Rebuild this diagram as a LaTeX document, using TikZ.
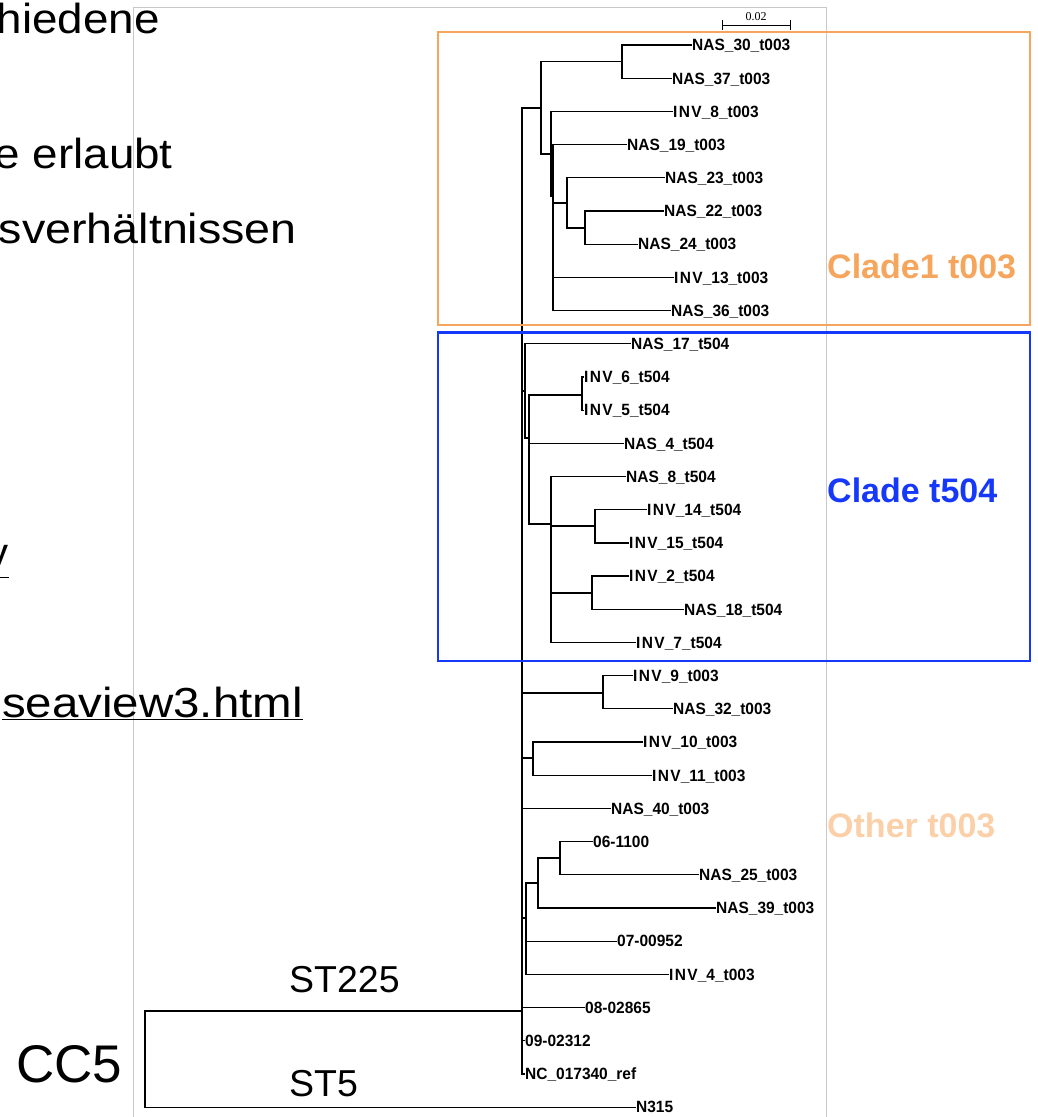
\documentclass[tikz,border=0pt]{standalone}
\usepackage{fontspec}
\setmainfont{Liberation Sans}
\newfontfamily\leaffont{Liberation Sans}[FakeStretch=0.95]
\newfontfamily\barfont{Liberation Serif}
\definecolor{cladeorange}{RGB}{245,165,92}
\definecolor{cladeblue}{RGB}{22,56,250}
\definecolor{otherorange}{RGB}{251,208,168}
\definecolor{framegray}{RGB}{200,200,200}
\newcommand\invtxt{I\kern1.4pt N\kern1.4pt V}
\begin{document}
\begin{tikzpicture}[x=1pt,y=-1pt,
  leaf/.style={anchor=west, inner sep=0pt, text height=11.7pt, text depth=0pt,
    font=\leaffont\bfseries\fontsize{16.3}{18}\selectfont},
  br/.style={line width=1.2pt, black, line join=miter},
  slide/.style={inner sep=0pt, anchor=base east, font=\fontsize{42}{48}\selectfont},
  st/.style={inner sep=0pt, anchor=base west, font=\fontsize{37.5}{42}\selectfont},
  cladelbl/.style={inner sep=0pt, anchor=base west, font=\bfseries\fontsize{34}{38}\selectfont},
  cladebox/.style={line width=2.6pt}]
\useasboundingbox (0,0) rectangle (1037,1117);

% gray frame
\draw[framegray, line width=1pt] (133,1120) -- (133,7) -- (826,7) -- (826,1120);

% cut-off slide text
\node[slide] (t1) at (160,33) {\scalebox{1.09}[1]{hiedene}};
\node[slide] (t2) at (173,168) {\scalebox{1.09}[1]{e erlaubt}};
\node[slide] (t3) at (297,243) {\scalebox{1.11}[1]{sverhältnissen}};
\node[slide] (t4) at (9,567) {\underline{y}};
\node[slide] (t5) at (303,717) {\scalebox{1.13}[1]{\underline{seaview3.html}}};

% scale bar
\coordinate (sb1) at (722,25);
\coordinate (sb2) at (790,25);
\draw[line width=0.9pt] (sb1) -- (sb2);
\draw[line width=0.9pt] ([yshift=-5]sb1) -- ([yshift=5]sb1);
\draw[line width=0.9pt] ([yshift=-5]sb2) -- ([yshift=5]sb2);
\node[inner sep=0pt, font=\barfont\fontsize{12}{14}\selectfont] (sbl) at (756,17) {0.02};

% leaves
\node[leaf] (l00) at (692,45.0) {NAS\_30\_t003};
\node[leaf] (l01) at (672,78.2) {NAS\_37\_t003};
\node[leaf] (l02) at (673,111.4) {\invtxt\_8\_t003};
\node[leaf] (l03) at (627,144.6) {NAS\_19\_t003};
\node[leaf] (l04) at (665,177.8) {NAS\_23\_t003};
\node[leaf] (l05) at (664,211.0) {NAS\_22\_t003};
\node[leaf] (l06) at (638,244.1) {NAS\_24\_t003};
\node[leaf] (l07) at (674,277.3) {\invtxt\_13\_t003};
\node[leaf] (l08) at (671,310.5) {NAS\_36\_t003};
\node[leaf] (l09) at (631,343.7) {NAS\_17\_t504};
\node[leaf] (l10) at (584,376.9) {\invtxt\_6\_t504};
\node[leaf] (l11) at (584,410.1) {\invtxt\_5\_t504};
\node[leaf] (l12) at (624,443.3) {NAS\_4\_t504};
\node[leaf] (l13) at (626,476.5) {NAS\_8\_t504};
\node[leaf] (l14) at (647,509.7) {\invtxt\_14\_t504};
\node[leaf] (l15) at (629,542.9) {\invtxt\_15\_t504};
\node[leaf] (l16) at (629,576.0) {\invtxt\_2\_t504};
\node[leaf] (l17) at (684,609.2) {NAS\_18\_t504};
\node[leaf] (l18) at (636,642.4) {\invtxt\_7\_t504};
\node[leaf] (l19) at (633,675.6) {\invtxt\_9\_t003};
\node[leaf] (l20) at (673,708.8) {NAS\_32\_t003};
\node[leaf] (l21) at (643,742.0) {\invtxt\_10\_t003};
\node[leaf] (l22) at (652,775.2) {\invtxt\_11\_t003};
\node[leaf] (l23) at (611,808.4) {NAS\_40\_t003};
\node[leaf] (l24) at (593,841.6) {06-1100};
\node[leaf] (l25) at (699,874.8) {NAS\_25\_t003};
\node[leaf] (l26) at (716,908.0) {NAS\_39\_t003};
\node[leaf] (l27) at (617,941.1) {07-00952};
\node[leaf] (l28) at (669,974.3) {\invtxt\_4\_t003};
\node[leaf] (l29) at (585,1007.5) {08-02865};
\node[leaf] (l30) at (525,1040.7) {09-02312};
\node[leaf] (l31) at (525,1073.9) {NC\_017340\_ref};
\node[leaf] (l32) at (636,1107.1) {N315};

% internal nodes
\coordinate (S) at (145,1060);
\coordinate (R) at (522,1011);
\coordinate (A) at (541,108);
\coordinate (AB) at (622,61.6);
\coordinate (B) at (551,154);
\coordinate (C) at (553,196);
\coordinate (D) at (567,203);
\coordinate (E) at (585,228);
\coordinate (F) at (525,391);
\coordinate (G) at (529,438);
\coordinate (H) at (582,395);
\coordinate (I) at (551,524);
\coordinate (J) at (595,526);
\coordinate (K) at (592,593);
\coordinate (L) at (603,693);
\coordinate (M) at (533,758);
\coordinate (N) at (526,918);
\coordinate (O) at (538,883);
\coordinate (P) at (560,858);

% branches
\draw[br] (S) |- (R);
\draw[br] (S) |- (l32.west);
\foreach \c in {A,F,L,M,N} \draw[br] (R) |- (\c);
\foreach \c in {l23,l29,l30,l31} \draw[br] (R) |- (\c.west);
\draw[br] (A) |- (AB);
\draw[br] (A) |- (B);
\draw[br] (AB) |- (l00.west);
\draw[br] (AB) |- (l01.west);
\draw[br] (B) |- (l02.west);
\draw[br] (B) |- (C);
\draw[br] (C) |- (l03.west);
\draw[br] (C) |- (D);
\draw[br] (C) |- (l07.west);
\draw[br] (C) |- (l08.west);
\draw[br] (D) |- (l04.west);
\draw[br] (D) |- (E);
\draw[br] (E) |- (l05.west);
\draw[br] (E) |- (l06.west);
\draw[br] (F) |- (l09.west);
\draw[br] (F) |- (G);
\draw[br] (G) |- (H);
\draw[br] (G) |- (l12.west);
\draw[br] (G) |- (I);
\draw[br] (H) |- (l10.west);
\draw[br] (H) |- (l11.west);
\draw[br] (I) |- (l13.west);
\draw[br] (I) |- (J);
\draw[br] (I) |- (K);
\draw[br] (I) |- (l18.west);
\draw[br] (J) |- (l14.west);
\draw[br] (J) |- (l15.west);
\draw[br] (K) |- (l16.west);
\draw[br] (K) |- (l17.west);
\draw[br] (L) |- (l19.west);
\draw[br] (L) |- (l20.west);
\draw[br] (M) |- (l21.west);
\draw[br] (M) |- (l22.west);
\draw[br] (N) |- (O);
\draw[br] (N) |- (l27.west);
\draw[br] (N) |- (l28.west);
\draw[br] (O) |- (P);
\draw[br] (O) |- (l26.west);
\draw[br] (P) |- (l24.west);
\draw[br] (P) |- (l25.west);

% clade boxes
\draw[cladebox, cladeorange] (438,32) rectangle (1030,325);
\draw[cladebox, cladeblue] (438,332.5) rectangle (1030,661);

% clade labels
\node[cladelbl, text=cladeorange] (c1) at (827,278) {Clade1 t003};
\node[cladelbl, text=cladeblue] (c2) at (827,502) {Clade t504};
\node[cladelbl, text=otherorange] (c3) at (827,837) {Other t003};

% ST labels
\node[st] (st225) at (289,992) {ST225};
\node[st] (st5) at (289,1096) {ST5};
\node[inner sep=0pt, anchor=base west, font=\fontsize{53}{58}\selectfont] (cc5) at (16,1082) {CC5};
\end{tikzpicture}
\end{document}
